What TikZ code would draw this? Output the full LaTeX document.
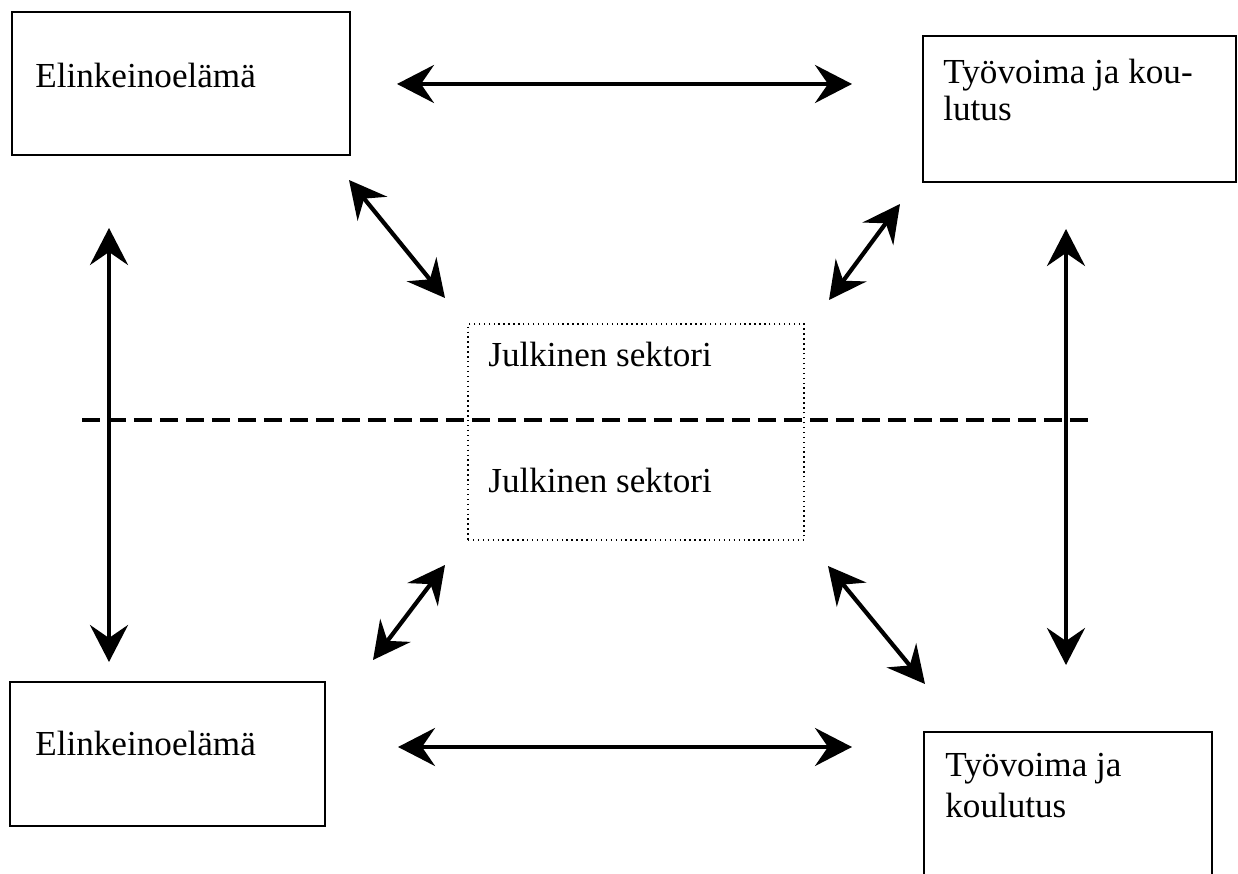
\documentclass[tikz,border=0pt]{standalone}
\usepackage{fontspec}
\setmainfont{Liberation Serif}
\usetikzlibrary{arrows.meta}

\tikzset{
  box/.style    = {draw, line width=1.1pt, inner sep=0pt},
  sectorbox/.style = {draw, line width=0.8pt, dotted, inner sep=0pt},
  label/.style  = {anchor=base west, inner sep=0pt,
                   font=\fontsize{20}{21}\selectfont},
  link/.style   = {<->, line width=2.4pt},
}

\begin{document}
\begin{tikzpicture}[>={Stealth[length=7.4mm, width=7.6mm, inset=2.6mm]},
                    x=0.02cm, y=-0.02cm]
  \useasboundingbox (0,0) rectangle (1238,874);
  \clip (0,0) rectangle (1238,874);

  % boxes
  \node (eltop) [box, minimum width=6.76cm, minimum height=2.86cm] at (181,83.5) {};
  \node (tytop) [box, minimum width=6.26cm, minimum height=2.92cm] at (1079.5,109) {};
  \node (julk)  [sectorbox, minimum width=6.72cm, minimum height=4.32cm] at (636,432) {};
  \node (elbot) [box, minimum width=6.30cm, minimum height=2.88cm] at (167.5,754) {};
  \node (tybot) [box, minimum width=5.76cm, minimum height=3.36cm] at (1068,816) {};

  % texts
  \node (eltop-t)  [label] at (35,88)   {Elinkeinoelämä};
  \node (tytop-t1) [label] at (943,84)  {Työvoima ja kou-};
  \node (tytop-t2) [label] at (943,121) {lutus};
  \node (julk-t1)  [label] at (488,367) {Julkinen sektori};
  \node (julk-t2)  [label] at (488,493) {Julkinen sektori};
  \node (elbot-t)  [label] at (35,755)  {Elinkeinoelämä};
  \node (tybot-t1) [label] at (945,776) {Työvoima ja};
  \node (tybot-t2) [label] at (945,817) {koulutus};

  % border line
  \coordinate (div-l) at (82,420);
  \coordinate (div-r) at (1092,420);
  \draw [line width=2pt, dash pattern=on 0.36cm off 0.16cm] (div-l) -- (div-r);

  % arrow ends
  \coordinate (top-l) at (397,84);   \coordinate (top-r) at (852,84);
  \coordinate (bot-l) at (398,747);  \coordinate (bot-r) at (852,747);
  \coordinate (lft-t) at (109,228);  \coordinate (lft-b) at (109,662);
  \coordinate (rgt-t) at (1066,229); \coordinate (rgt-b) at (1066,665);
  \coordinate (nw-a) at (349,180);   \coordinate (nw-b) at (445,298);
  \coordinate (ne-a) at (900,204);   \coordinate (ne-b) at (829,300);
  \coordinate (sw-a) at (445,565);   \coordinate (sw-b) at (373,660);
  \coordinate (se-a) at (828,566);   \coordinate (se-b) at (925,684);

  \draw [link] (top-l) -- (top-r);
  \draw [link] (bot-l) -- (bot-r);
  \draw [link] (lft-t) -- (lft-b);
  \draw [link] (rgt-t) -- (rgt-b);
  \draw [link] (nw-a) -- (nw-b);
  \draw [link] (ne-a) -- (ne-b);
  \draw [link] (sw-a) -- (sw-b);
  \draw [link] (se-a) -- (se-b);
\end{tikzpicture}
\end{document}
